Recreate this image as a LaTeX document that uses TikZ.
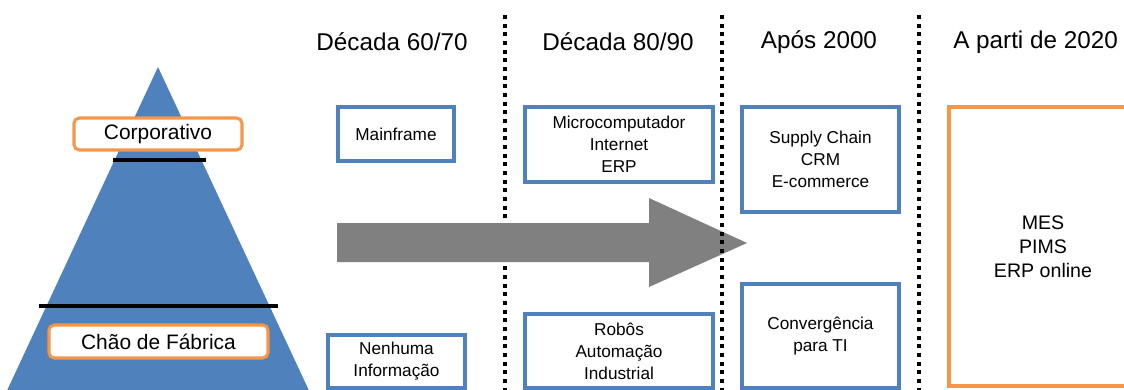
\documentclass[tikz,border=0pt]{standalone}
\usepackage{fontspec}
\setmainfont{Liberation Sans}
\definecolor{pyrblue}{HTML}{4F81BD}
\definecolor{boxblue}{HTML}{4F81BD}
\definecolor{accent}{HTML}{F79646}
\definecolor{arrowgray}{HTML}{808080}
\tikzset{
  header/.style={font=\fontsize{18.2}{21}\selectfont, inner sep=0pt},
  size/.style 2 args={minimum width=#1*0.75pt, minimum height=#2*0.75pt},
  erabox/.style={draw=boxblue, line width=2.3pt, fill=white, inner sep=0pt,
    align=center, font=\fontsize{12.9}{16.5}\selectfont},
  levelbox/.style={draw=accent, line width=2.3pt, fill=white, rounded corners=4pt,
    inner sep=0pt, font=\fontsize{15.7}{18}\selectfont},
  divider/.style={line width=3pt, dash pattern=on 3pt off 3.5pt},
  levelline/.style={line width=2.4pt, black},
}
\begin{document}
\begin{tikzpicture}[x=0.75pt, y=-0.75pt]
\useasboundingbox (0,0) rectangle (1124,389);
\clip (0,0) rectangle (1124,389);

% pyramid of company levels
\fill[pyrblue] (158,67) -- (4,397) -- (312,397) -- cycle;
\draw[levelline] (113,160) -- (206,160);
\draw[levelline] (39,306) -- (278,306);
\node[levelbox, size={168}{32}] (corp) at (158,134) {Corporativo};
\node[levelbox, size={219}{33}] (chao) at (158.5,341.5) {Chão de Fábrica};

% period headers
\node[header] (h1) at (392,42) {Década 60/70};
\node[header] (h2) at (618,42) {Década 80/90};
\node[header] (h3) at (819,42) {Após 2000};
\node[header, anchor=west] (h4) at (953,42) {A parti de 2020};

% first divider sits below the timeline arrow
\draw[divider] (505,15) -- (505,392);

% timeline arrow
\fill[arrowgray] (337,223) -- (649,223) -- (649,198) -- (747,243)
  -- (649,287) -- (649,262) -- (337,262) -- cycle;

% remaining dividers
\draw[divider] (722,15) -- (722,392);
\draw[divider] (919,15) -- (919,392);

% technologies per period
\node[erabox, size={116}{54}] (main) at (396,134) {Mainframe};
\node[erabox, size={137}{53}] (none) at (396.5,361.5) {Nenhuma\\Informação};
\node[erabox, size={188}{75}] (micro) at (619,144.5) {Microcomputador\\Internet\\ERP};
\node[erabox, size={188}{74}] (robo) at (619,351) {Robôs\\Automação\\Industrial};
\node[erabox, size={157}{105}] (scm) at (820.5,159.5) {Supply Chain\\CRM\\E-commerce};
\node[erabox, size={157}{104}] (conv) at (820.5,336) {Convergência\\para TI};
\node[erabox, draw=accent, size={188}{279},
  font=\fontsize{14.7}{18}\selectfont] (mes) at (1043,246.5) {MES\\PIMS\\ERP online};
\end{tikzpicture}
\end{document}
